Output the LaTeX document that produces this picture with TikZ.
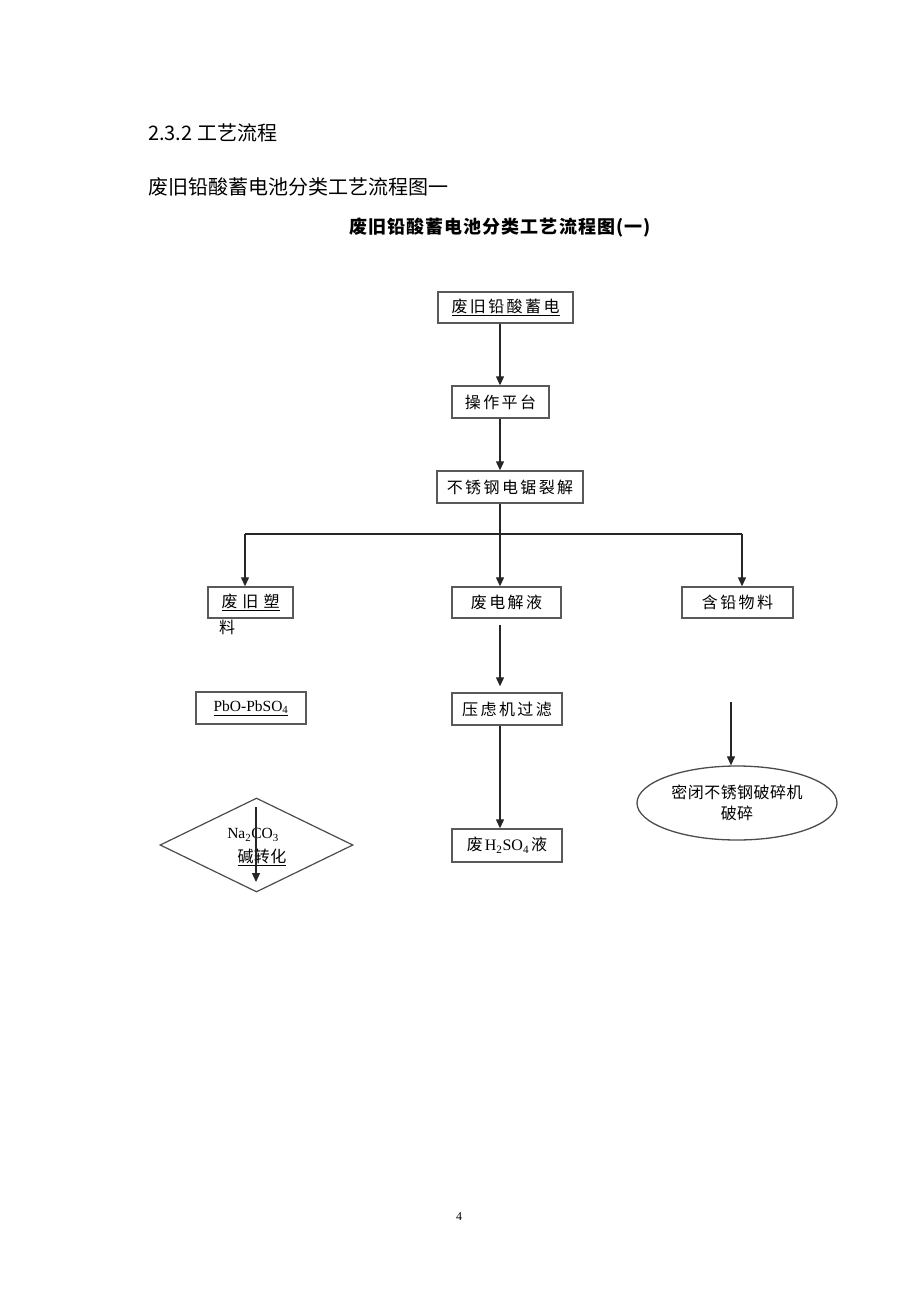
\documentclass[tikz,border=0pt]{standalone}
\usepackage{fontspec}
\setmainfont{Liberation Serif}
\newfontfamily\cjk{Noto Sans CJK SC}
\newfontfamily\cjkbox[LetterSpace=15]{Noto Sans CJK SC}
\newfontfamily\cjkell[LetterSpace=3]{Noto Sans CJK SC}
\newfontfamily\cjktitle[LetterSpace=6]{Noto Sans CJK SC}
\usetikzlibrary{shapes.geometric,arrows.meta}
\tikzset{
  pbox/.style={draw=black!65, line width=1.4pt, inner sep=0pt, align=center,
    font=\cjkbox\fontsize{16pt}{19pt}\selectfont},
  arr/.style={-{Triangle[length=9pt,width=8pt]}, line width=1.2pt, draw=black!85},
  ln/.style={line width=1.2pt, draw=black!85},
  head/.style={anchor=west, inner sep=0pt, font=\cjk\fontsize{20pt}{24pt}\selectfont},
  plain/.style={inner sep=0pt, font=\cjkbox\fontsize{16pt}{19pt}\selectfont},
}
\begin{document}
\begin{tikzpicture}[x=1pt,y=-1pt]
\useasboundingbox[fill=white] (0,0) rectangle (920,1302);

% headings
\node[head] (h1) at (148,133) {2.3.2 工艺流程};
\node[head] (h2) at (148,187) {废旧铅酸蓄电池分类工艺流程图一};
\node[anchor=west, inner sep=0pt, font=\cjktitle\bfseries\fontsize{18pt}{21pt}\selectfont] (title) at (349,228) {废旧铅酸蓄电池分类工艺流程图(一)};

% main column
\coordinate (cx) at (500,0);
\node[pbox, minimum width=135pt, minimum height=31pt] (b1) at (505.5,307.5) {\underline{废旧铅酸蓄电}};
\node[pbox, minimum width=97pt, minimum height=32pt] (b2) at (500.5,402) {操作平台};
\node[pbox, minimum width=146pt, minimum height=32pt] (b3) at (510,487) {不锈钢电锯裂解};

\draw[arr] (b1.south -| cx) -- (b2.north -| cx);
\draw[arr] (b2.south -| cx) -- (b3.north -| cx);

% branch
\coordinate (jn) at (500,534);
\coordinate (jL) at (245,534);
\coordinate (jR) at (742,534);
\node[pbox, minimum width=85pt, minimum height=31pt] (bL) at (250.5,602.5) {\underline{废\hspace{5pt}旧\hspace{5pt}塑}};
\node[plain] (bL2) at (227,627) {料};
\node[pbox, minimum width=109pt, minimum height=31pt] (bM) at (506.5,602.5) {废电解液};
\node[pbox, minimum width=111pt, minimum height=31pt] (bR) at (737.5,602.5) {含铅物料};

\draw[ln] (b3.south -| cx) -- (jn);
\draw[ln] (jL) -- (jR);
\draw[arr] (jL) -- (bL.north -| jL);
\draw[arr] (jn) -- (bM.north -| jn);
\draw[arr] (jR) -- (bR.north -| jR);

% middle column lower
\node[pbox, minimum width=110pt, minimum height=32pt] (filt) at (507,709) {压虑机过滤};
\node[pbox, minimum width=110pt, minimum height=33pt] (acid) at (507,845.5) {废\hspace{2pt}{\rmfamily H\textsubscript{2}SO\textsubscript{4}}\hspace{2pt}液};
\draw[arr, shorten <=6pt, shorten >=6pt] (bM.south -| cx) -- (filt.north -| cx);
\draw[arr] (filt.south -| cx) -- (acid.north -| cx);

% left column lower
\node[pbox, minimum width=110pt, minimum height=32pt, font=\rmfamily\fontsize{15.5pt}{18pt}\selectfont] (pbo) at (251,708) {\underline{PbO-PbSO\textsubscript{4}}};
\node[draw=black!70, line width=1.2pt, diamond, minimum width=193pt, minimum height=94pt, inner sep=0pt] (dia) at (256.5,845) {};
\node[inner sep=0pt, font=\rmfamily\fontsize{15.5pt}{18pt}\selectfont] (na) at (253,835) {Na\textsubscript{2}CO\textsubscript{3}};
\node[plain, font=\cjkell\fontsize{16pt}{19pt}\selectfont] (jz) at (262,857) {\underline{碱转化}};
\coordinate (ds) at (256,807);
\coordinate (de) at (256,882);
\draw[arr] (ds) -- (de);

% right column lower
\coordinate (rs) at (731,702);
\node[ellipse, draw=black!70, line width=1.3pt, minimum width=200pt, minimum height=74pt, inner sep=0pt, align=center,
  font=\cjkell\fontsize{16pt}{21pt}\selectfont] (ell) at (737,803) {密闭不锈钢破碎机\\破碎};
\draw[arr] (rs) -- (rs |- ell.north);

% page number
\node[inner sep=0pt, font=\rmfamily\fontsize{12pt}{14pt}\selectfont] (pg) at (459,1217) {4};
\end{tikzpicture}
\end{document}
